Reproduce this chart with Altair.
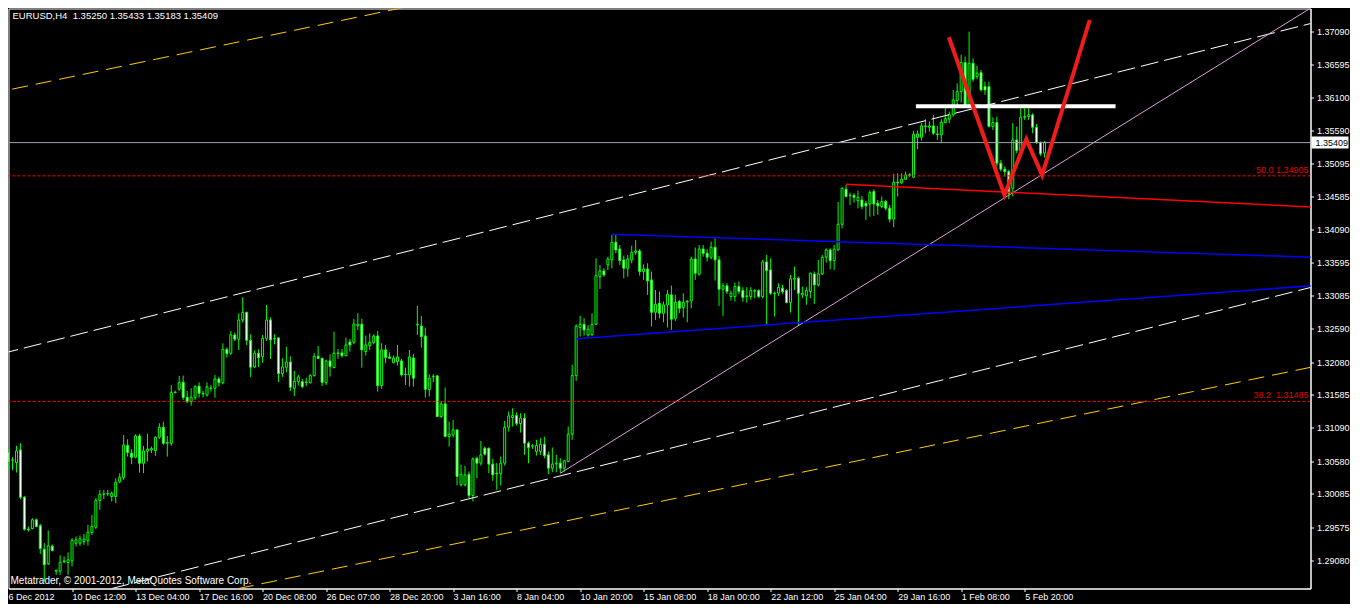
import altair as alt
import pandas as pd

# ---------------- data (EURUSD H4 candles) ----------------
opens = [
    1.30710, 1.30594, 1.30558, 1.30750, 1.30033, 1.29548, 1.29558, 1.29690, 1.29599, 1.29245,
    1.29023, 1.29291, 1.28912, 1.28912, 1.29053, 1.29043, 1.29068, 1.29336, 1.29336, 1.29361,
    1.29376, 1.29498, 1.29578, 1.29983, 1.30078, 1.30083, 1.30043, 1.30043, 1.30265, 1.30331,
    1.30816, 1.30700, 1.30639, 1.30962, 1.30548, 1.30730, 1.30750, 1.30740, 1.30942, 1.31093,
    1.30851, 1.30851, 1.31619, 1.31669, 1.31775, 1.31548, 1.31483, 1.31543, 1.31715, 1.31609,
    1.31584, 1.31680, 1.31685, 1.31826, 1.31770, 1.32275, 1.32215, 1.32493, 1.32427, 1.32720,
    1.32836, 1.32412, 1.32008, 1.32215, 1.32164, 1.32442, 1.32720, 1.32432, 1.32447, 1.31907,
    1.32003, 1.32083, 1.31685, 1.31785, 1.31785, 1.31770, 1.31770, 1.31876, 1.32169, 1.32139,
    1.31770, 1.32099, 1.31998, 1.32210, 1.32220, 1.32179, 1.32386, 1.32381, 1.32634, 1.32655,
    1.32241, 1.32331, 1.32377, 1.32478, 1.31725, 1.32266, 1.32160, 1.32074, 1.32089, 1.32099,
    1.31897, 1.31887, 1.32144, 1.32644, 1.32629, 1.32478, 1.31665, 1.31857, 1.31872, 1.31256,
    1.31448, 1.30953, 1.30978, 1.31054, 1.30221, 1.30221, 1.30382, 1.30059, 1.30624, 1.30549,
    1.30776, 1.30776, 1.30534, 1.30397, 1.30387, 1.30549, 1.31094, 1.31241, 1.31271, 1.31150,
    1.31231, 1.30852, 1.30807, 1.30726, 1.30726, 1.30837, 1.30675, 1.30474, 1.30539, 1.30549,
    1.30474, 1.30575, 1.30989, 1.31877, 1.32605, 1.32655, 1.32494, 1.32494, 1.32655, 1.33377,
    1.33463, 1.33554, 1.33630, 1.33897, 1.33796, 1.33630, 1.33504, 1.33630, 1.33746, 1.33766,
    1.33453, 1.33493, 1.33327, 1.32837, 1.32973, 1.32822, 1.32948, 1.33100, 1.32746, 1.32999,
    1.32908, 1.32993, 1.33009, 1.33645, 1.33413, 1.33796, 1.33732, 1.33671, 1.33822, 1.33631,
    1.33186, 1.33237, 1.33075, 1.33075, 1.33227, 1.33166, 1.33075, 1.33075, 1.33156, 1.33166,
    1.33075, 1.33600, 1.33479, 1.33126, 1.33126, 1.33201, 1.33166, 1.32984, 1.33338, 1.33353,
    1.33100, 1.33085, 1.33151, 1.33418, 1.33252, 1.33418, 1.33671, 1.33782, 1.33620, 1.33782,
    1.34171, 1.34701, 1.34610, 1.34610, 1.34529, 1.34539, 1.34489, 1.34479, 1.34666, 1.34491,
    1.34440, 1.34516, 1.34415, 1.34248, 1.34809, 1.34799, 1.34854, 1.34920, 1.34884, 1.35490,
    1.35490, 1.35662, 1.35642, 1.35662, 1.35541, 1.35526, 1.35713, 1.35763, 1.35829, 1.36046,
    1.36182, 1.36622, 1.35980, 1.36612, 1.36410, 1.36470, 1.36258, 1.36258, 1.35652, 1.35713,
    1.35097, 1.35006, 1.34970, 1.34718, 1.35450, 1.35288, 1.35793, 1.35804, 1.35829, 1.35642,
    1.35410, 1.35250,
]
highs = [
    1.30760, 1.30639, 1.30811, 1.30851, 1.30053, 1.29589, 1.29715, 1.29710, 1.29629, 1.29336,
    1.29528, 1.29316, 1.28932, 1.29154, 1.29134, 1.29195, 1.29412, 1.29437, 1.29452, 1.29477,
    1.29614, 1.29765, 1.30018, 1.30144, 1.30144, 1.30144, 1.30119, 1.30321, 1.30397, 1.30977,
    1.30912, 1.30760, 1.30987, 1.30992, 1.30811, 1.30992, 1.30801, 1.30952, 1.31154, 1.31179,
    1.30962, 1.31735, 1.31649, 1.31871, 1.31876, 1.31644, 1.31685, 1.31725, 1.31775, 1.31644,
    1.31775, 1.31735, 1.31887, 1.31861, 1.32366, 1.32301, 1.32553, 1.32528, 1.32821, 1.33063,
    1.32846, 1.32503, 1.32260, 1.32275, 1.32493, 1.32947, 1.32760, 1.32503, 1.32462, 1.32139,
    1.32311, 1.32169, 1.31947, 1.31887, 1.31826, 1.31846, 1.31897, 1.32215, 1.32326, 1.32149,
    1.32119, 1.32200, 1.32543, 1.32280, 1.32280, 1.32452, 1.32432, 1.32735, 1.32821, 1.32735,
    1.32483, 1.32518, 1.32503, 1.32554, 1.32367, 1.32342, 1.32230, 1.32180, 1.32342, 1.32129,
    1.31998, 1.32266, 1.32205, 1.32932, 1.32781, 1.32604, 1.31897, 1.31897, 1.31887, 1.31493,
    1.31695, 1.31180, 1.31205, 1.31054, 1.30524, 1.30508, 1.30423, 1.30635, 1.30650, 1.30887,
    1.30801, 1.30786, 1.30614, 1.30549, 1.30650, 1.31190, 1.31332, 1.31382, 1.31321, 1.31306,
    1.31306, 1.30878, 1.30837, 1.30903, 1.30928, 1.30948, 1.30726, 1.30787, 1.30675, 1.30625,
    1.30600, 1.31105, 1.32039, 1.32655, 1.32786, 1.32746, 1.32645, 1.32822, 1.33655, 1.33554,
    1.33504, 1.33680, 1.34009, 1.34009, 1.33857, 1.33695, 1.33706, 1.33847, 1.33933, 1.33796,
    1.33564, 1.33579, 1.33453, 1.33175, 1.33150, 1.32999, 1.33175, 1.33241, 1.33100, 1.33024,
    1.33125, 1.33024, 1.33680, 1.33817, 1.33857, 1.33857, 1.33792, 1.33908, 1.33969, 1.33691,
    1.33277, 1.33277, 1.33166, 1.33287, 1.33302, 1.33216, 1.33216, 1.33216, 1.33186, 1.33186,
    1.33631, 1.33706, 1.33656, 1.33151, 1.33277, 1.33252, 1.33186, 1.33403, 1.33530, 1.33378,
    1.33227, 1.33216, 1.33439, 1.33454, 1.33631, 1.33706, 1.33807, 1.33807, 1.33858, 1.34509,
    1.34731, 1.34767, 1.34651, 1.34641, 1.34681, 1.34600, 1.34529, 1.34681, 1.34701, 1.34541,
    1.34592, 1.34541, 1.34465, 1.34935, 1.34945, 1.34945, 1.34970, 1.34945, 1.35586, 1.35591,
    1.35703, 1.35763, 1.35728, 1.35829, 1.35662, 1.35763, 1.35930, 1.35879, 1.36208, 1.36309,
    1.36738, 1.36713, 1.37091, 1.36687, 1.36571, 1.36511, 1.36334, 1.36334, 1.35793, 1.35804,
    1.35147, 1.35046, 1.34995, 1.35703, 1.35652, 1.35930, 1.35930, 1.35930, 1.35854, 1.35692,
    1.35425, 1.35433,
]
lows = [
    1.30447, 1.30447, 1.30407, 1.30003, 1.29528, 1.29513, 1.29548, 1.29578, 1.29174, 1.28755,
    1.29008, 1.29210, 1.28856, 1.28856, 1.29033, 1.28856, 1.28983, 1.29286, 1.29296, 1.29311,
    1.29301, 1.29462, 1.29548, 1.29841, 1.30003, 1.30053, 1.29967, 1.29942, 1.30245, 1.30296,
    1.30649, 1.30533, 1.30624, 1.30407, 1.30397, 1.30573, 1.30700, 1.30659, 1.30917, 1.30826,
    1.30649, 1.30811, 1.31609, 1.31649, 1.31508, 1.31457, 1.31422, 1.31508, 1.31543, 1.31543,
    1.31558, 1.31634, 1.31543, 1.31710, 1.31745, 1.32149, 1.32190, 1.32402, 1.32265, 1.32684,
    1.32341, 1.31856, 1.31988, 1.32008, 1.32073, 1.32402, 1.32129, 1.32351, 1.31780, 1.31856,
    1.31927, 1.31644, 1.31568, 1.31725, 1.31685, 1.31715, 1.31755, 1.31861, 1.32129, 1.31720,
    1.31735, 1.31861, 1.31988, 1.32129, 1.32149, 1.32169, 1.32240, 1.32351, 1.32569, 1.31998,
    1.32180, 1.32266, 1.32352, 1.31634, 1.31675, 1.32064, 1.32129, 1.32064, 1.32028, 1.31862,
    1.31736, 1.31710, 1.31710, 1.32493, 1.32301, 1.31544, 1.31559, 1.31776, 1.31246, 1.31231,
    1.30943, 1.30801, 1.30938, 1.30210, 1.30195, 1.30195, 1.30019, 1.29968, 1.30322, 1.30513,
    1.30665, 1.30397, 1.30281, 1.30145, 1.30210, 1.30513, 1.31029, 1.31104, 1.31119, 1.31013,
    1.30675, 1.30549, 1.30766, 1.30665, 1.30675, 1.30625, 1.30383, 1.30413, 1.30413, 1.30398,
    1.30423, 1.30564, 1.30903, 1.31797, 1.32468, 1.32483, 1.32468, 1.32483, 1.32645, 1.33190,
    1.33377, 1.33478, 1.33504, 1.33731, 1.33554, 1.33352, 1.33377, 1.33579, 1.33706, 1.33392,
    1.33327, 1.33100, 1.32620, 1.32721, 1.32746, 1.32685, 1.32605, 1.32569, 1.32706, 1.32822,
    1.32756, 1.32685, 1.32898, 1.33327, 1.33392, 1.33680, 1.33605, 1.33641, 1.33317, 1.32934,
    1.32782, 1.33115, 1.33014, 1.32999, 1.33115, 1.32999, 1.32984, 1.33025, 1.33050, 1.33050,
    1.33050, 1.32646, 1.33100, 1.32772, 1.33085, 1.33115, 1.32974, 1.32833, 1.33176, 1.32631,
    1.33050, 1.32949, 1.33050, 1.32964, 1.33227, 1.33403, 1.33590, 1.33489, 1.33479, 1.33772,
    1.34110, 1.34580, 1.34464, 1.34499, 1.34413, 1.34398, 1.34237, 1.34287, 1.34297, 1.34314,
    1.34415, 1.34379, 1.34198, 1.34127, 1.34591, 1.34783, 1.34844, 1.34884, 1.34874, 1.35309,
    1.35440, 1.35551, 1.35576, 1.35526, 1.35450, 1.35400, 1.35703, 1.35703, 1.35804, 1.35980,
    1.36016, 1.35945, 1.35945, 1.36334, 1.36369, 1.36182, 1.36132, 1.35642, 1.35602, 1.35046,
    1.34970, 1.34895, 1.34551, 1.34592, 1.35248, 1.35273, 1.35753, 1.35753, 1.35551, 1.35389,
    1.35208, 1.35183,
]
closes = [
    1.30573, 1.30599, 1.30735, 1.30033, 1.29548, 1.29538, 1.29690, 1.29589, 1.29255, 1.29008,
    1.29296, 1.29225, 1.28927, 1.29048, 1.29068, 1.29084, 1.29381, 1.29387, 1.29402, 1.29397,
    1.29503, 1.29589, 1.29988, 1.30078, 1.30083, 1.30088, 1.30093, 1.30260, 1.30336, 1.30826,
    1.30710, 1.30639, 1.30962, 1.30548, 1.30735, 1.30760, 1.30770, 1.30942, 1.31093, 1.30851,
    1.30861, 1.31619, 1.31624, 1.31770, 1.31543, 1.31483, 1.31548, 1.31715, 1.31609, 1.31599,
    1.31705, 1.31690, 1.31826, 1.31770, 1.32275, 1.32210, 1.32493, 1.32427, 1.32720, 1.32836,
    1.32412, 1.32003, 1.32215, 1.32149, 1.32442, 1.32720, 1.32417, 1.32437, 1.31907, 1.32008,
    1.32083, 1.31700, 1.31790, 1.31856, 1.31710, 1.31780, 1.31876, 1.32169, 1.32139, 1.31775,
    1.32099, 1.32013, 1.32215, 1.32220, 1.32179, 1.32341, 1.32341, 1.32659, 1.32655, 1.32266,
    1.32342, 1.32382, 1.32478, 1.31725, 1.32266, 1.32150, 1.32140, 1.32144, 1.32160, 1.31887,
    1.31892, 1.32160, 1.31837, 1.32655, 1.32468, 1.31670, 1.31837, 1.31867, 1.31256, 1.31448,
    1.30953, 1.30988, 1.31054, 1.30347, 1.30382, 1.30372, 1.30059, 1.30614, 1.30549, 1.30675,
    1.30685, 1.30534, 1.30372, 1.30387, 1.30549, 1.31094, 1.31266, 1.31271, 1.31150, 1.31231,
    1.30852, 1.30786, 1.30812, 1.30817, 1.30837, 1.30665, 1.30474, 1.30534, 1.30549, 1.30474,
    1.30585, 1.30989, 1.31877, 1.32625, 1.32655, 1.32569, 1.32579, 1.32655, 1.33392, 1.33463,
    1.33403, 1.33645, 1.33897, 1.33781, 1.33620, 1.33504, 1.33645, 1.33746, 1.33766, 1.33453,
    1.33493, 1.33312, 1.32837, 1.32958, 1.32822, 1.32948, 1.33110, 1.32731, 1.32988, 1.32898,
    1.32988, 1.33004, 1.33645, 1.33428, 1.33796, 1.33731, 1.33671, 1.33822, 1.33631, 1.33186,
    1.33237, 1.33151, 1.33126, 1.33227, 1.33151, 1.33060, 1.33085, 1.33166, 1.33166, 1.33075,
    1.33600, 1.33469, 1.33126, 1.33121, 1.33216, 1.33151, 1.32984, 1.33343, 1.33353, 1.33126,
    1.33126, 1.33166, 1.33429, 1.33252, 1.33418, 1.33671, 1.33782, 1.33620, 1.33792, 1.34171,
    1.34716, 1.34590, 1.34605, 1.34580, 1.34580, 1.34439, 1.34449, 1.34651, 1.34479, 1.34450,
    1.34516, 1.34415, 1.34248, 1.34809, 1.34799, 1.34854, 1.34920, 1.34910, 1.35536, 1.35541,
    1.35662, 1.35652, 1.35662, 1.35551, 1.35531, 1.35718, 1.35773, 1.35834, 1.36056, 1.36182,
    1.36622, 1.35980, 1.36612, 1.36369, 1.36460, 1.36208, 1.36208, 1.35652, 1.35713, 1.35097,
    1.35006, 1.34970, 1.34642, 1.35450, 1.35288, 1.35793, 1.35804, 1.35829, 1.35642, 1.35410,
    1.35238, 1.35409,
]

x_tick_labels = [
    "6 Dec 2012", "10 Dec 12:00", "13 Dec 04:00", "17 Dec 16:00", "20 Dec 08:00",
    "26 Dec 07:00", "28 Dec 20:00", "3 Jan 16:00", "8 Jan 04:00", "10 Jan 20:00",
    "15 Jan 08:00", "18 Jan 00:00", "22 Jan 12:00", "25 Jan 04:00", "29 Jan 16:00",
    "1 Feb 08:00", "5 Feb 20:00",
]
x_tick_bars = [16, 32, 48, 64, 80, 96, 112, 128, 144, 160, 176, 192, 208, 224, 240, 256]
y_tick_values = [
    1.37090, 1.36595, 1.36100, 1.35590, 1.35095, 1.34585, 1.34090, 1.33595, 1.33085,
    1.32590, 1.32080, 1.31585, 1.31090, 1.30580, 1.30085, 1.29575, 1.29080,
]

# drawn objects: straight segments (bar index, price) -> (bar index, price)
seg_names = ["yellow_top", "yellow_bottom", "white_top", "white_bottom", "pink",
             "blue_top", "blue_bottom", "red_line", "white_h"]
seg_i0 = [-5, 40, -2, 20, 139, 151.9, 143.1, 211, 228.6]
seg_p0 = [1.36145, 1.28426, 1.32205, 1.28558, 1.30396, 1.34019, 1.32436, 1.34777, 1.35961]
seg_i1 = [120, 330, 330, 330, 330, 330, 330, 330, 278.9]
seg_p1 = [1.37714, 1.32027, 1.37244, 1.33242, 1.37521, 1.33668, 1.33245, 1.34427, 1.35961]

zigzag_i = [236.9, 250.9, 256.4, 260.4, 272.4]
zigzag_p = [1.37006, 1.34615, 1.35459, 1.34918, 1.37268]

fib_levels = [1.34905, 1.31485]
fib_texts = ["50.0 1.34905", "38.2\u00a0 1.31485"]
last_price = 1.35409
header_text = "EURUSD,H4\u00a0 1.35250 1.35433 1.35183 1.35409"
copyright_text = "Metatrader, \u00a9 2001-2012, MetaQuotes Software Corp."

# ---------------- chart ----------------
W = 1302
H = 580
FONT = "Liberation Sans"

candles = pd.DataFrame({"i": list(range(len(opens))), "open": opens, "high": highs,
                        "low": lows, "close": closes})

rows = []
for n, a, b, c, d in zip(seg_names, seg_i0, seg_p0, seg_i1, seg_p1):
    rows.append({"name": n, "i": a, "p": b, "k": 0})
    rows.append({"name": n, "i": c, "p": d, "k": 1})
segs = pd.DataFrame(rows)
zig = pd.DataFrame({"i": zigzag_i, "p": zigzag_p, "k": list(range(len(zigzag_i)))})
fibs = pd.DataFrame({"p": fib_levels, "t": fib_texts})
last = pd.DataFrame({"p": [last_price], "t": [f"{last_price:.5f}"]})

x_scale = alt.Scale(domain=[1.25, 1.25 + W / 4], nice=False, zero=False)
y_scale = alt.Scale(domain=[1.28649, 1.37442], nice=False, zero=False)

label_expr = "[" + ",".join("'" + s + "'" for s in x_tick_labels) + "][round(datum.value/16)]"
x_axis = alt.Axis(values=x_tick_bars, labelExpr=label_expr, labelAlign="left",
                  labelBaseline="top", tickSize=3, labelPadding=1, title=None,
                  labelOverlap=False, labelFlush=False, labelBound=False, grid=False,
                  domainColor="#ffffff", tickColor="#ffffff", labelColor="#ffffff",
                  labelFont="Liberation Sans", labelFontSize=9)
y_axis = alt.Axis(orient="right", values=y_tick_values, format=".5f", tickSize=3,
                  labelPadding=3, labelBaseline="middle", title=None,
                  labelOverlap=False, labelFlush=False, labelBound=False, grid=False,
                  domainColor="#ffffff", tickColor="#ffffff", labelColor="#ffffff",
                  labelFont="Liberation Sans", labelFontSize=9)

X = lambda f: alt.X(f, scale=x_scale, axis=x_axis)
Y = lambda f: alt.Y(f, scale=y_scale, axis=y_axis)

wicks = alt.Chart(candles).mark_rule(color="#00ff00", strokeWidth=1, clip=True).encode(
    x=X("i:Q"), y=Y("low:Q"), y2="high:Q",
)
bodies = alt.Chart(candles).mark_bar(width=2, stroke="#00ff00", strokeWidth=1,
                                     clip=True, opacity=1).encode(
    x=X("i:Q"), y=Y("open:Q"), y2="close:Q",
    fill=alt.condition("datum.close >= datum.open", alt.value("#000000"), alt.value("#ffffff")),
)


def seg_layer(names, **kw):
    return alt.Chart(segs).transform_filter(
        alt.FieldOneOfPredicate(field="name", oneOf=names)
    ).mark_line(clip=True, **kw).encode(
        x=X("i:Q"), y=Y("p:Q"), detail="name:N", order="k:Q")


yellow = seg_layer(["yellow_top", "yellow_bottom"], color="#ffcc00", strokeWidth=1,
                   strokeDash=[16, 8])
white_dash = seg_layer(["white_top", "white_bottom"], color="#ffffff", strokeWidth=1,
                       strokeDash=[18, 6])
pink = seg_layer(["pink"], color="#dda0dd", strokeWidth=1)
blue = seg_layer(["blue_top", "blue_bottom"], color="#0000ff", strokeWidth=1.5)
red_line = seg_layer(["red_line"], color="#ff0000", strokeWidth=1.5)
white_h = seg_layer(["white_h"], color="#ffffff", strokeWidth=4)

zigzag = alt.Chart(zig).mark_line(color="#f01c1c", strokeWidth=4, clip=True).encode(
    x=X("i:Q"), y=Y("p:Q"), order="k:Q")

fib_rules = alt.Chart(fibs).mark_rule(color="#ff0000", strokeWidth=1, strokeDash=[3, 2],
                                      clip=True).encode(y=Y("p:Q"))
fib_labels = alt.Chart(fibs).mark_text(align="right", baseline="bottom", dy=-1,
                                       color="#e00000", font=FONT, fontSize=9).encode(
    x=alt.value(W - 2), y=Y("p:Q"), text="t:N")

last_rule = alt.Chart(last).mark_rule(color="#9ea4aa", strokeWidth=1, clip=True).encode(
    y=Y("p:Q"))
last_box = alt.Chart(last).transform_calculate(
    top="datum.p + 0.00091", bot="datum.p - 0.00091"
).mark_rect(color="#ffffff").encode(
    x=alt.value(W + 1), x2=alt.value(W + 38), y=Y("top:Q"), y2="bot:Q")
last_text = alt.Chart(last).mark_text(align="left", baseline="middle", color="#000000",
                                      font=FONT, fontSize=9).encode(
    x=alt.value(W + 5), y=Y("p:Q"), text="t:N")

header = alt.Chart(pd.DataFrame({"t": [header_text]})).mark_text(
    align="left", baseline="top", color="#ffffff", font=FONT, fontSize=9.5).encode(
    x=alt.value(4), y=alt.value(2), text="t:N")
copyright_mark = alt.Chart(pd.DataFrame({"t": [copyright_text]})).mark_text(
    align="left", baseline="middle", color="#ffffff", font=FONT, fontSize=10).encode(
    x=alt.value(2), y=alt.value(H - 8), text="t:N")
first_label = alt.Chart(pd.DataFrame({"t": [x_tick_labels[0]]})).mark_text(
    align="left", baseline="top", color="#ffffff", font=FONT, fontSize=9).encode(
    x=alt.value(0), y=alt.value(H + 4), text="t:N")

chart = alt.layer(
    wicks, bodies, yellow, white_dash, pink, blue, red_line, fib_rules, last_rule,
    white_h, zigzag, fib_labels, last_box, last_text, header, copyright_mark, first_label,
).properties(
    width=W, height=H,
    padding={"left": 0.5, "top": 0.5, "right": 39.5, "bottom": 15.5},
    autosize=alt.AutoSizeParams(type="none"),
).configure(
    background="#000000",
).configure_view(
    stroke="#ffffff", strokeWidth=1,
).configure_axis(
    domainColor="#ffffff", tickColor="#ffffff", labelColor="#ffffff",
    labelFont=FONT, labelFontSize=9, domainWidth=1, tickWidth=1,
)

chart.save("out.html", embed_options={"renderer": "svg", "actions": False})
